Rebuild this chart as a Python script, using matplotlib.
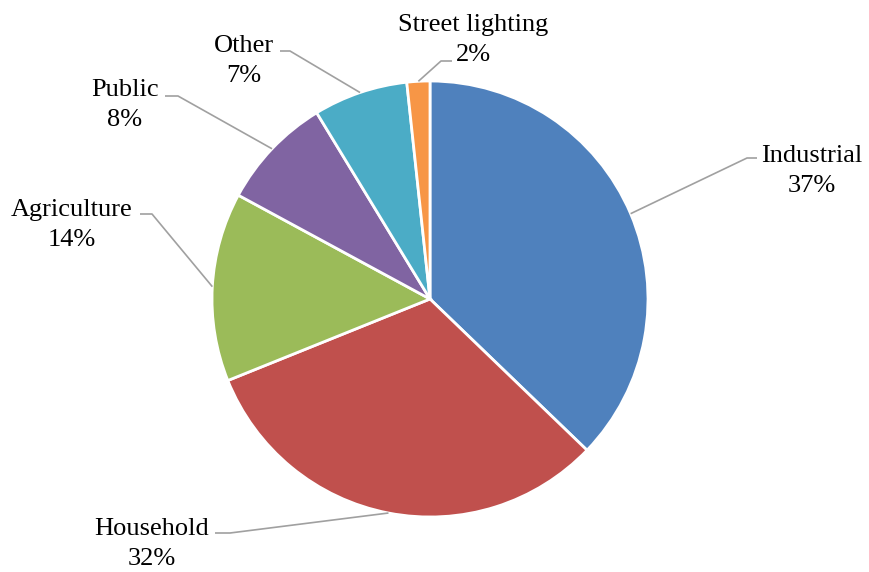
import numpy as np
import matplotlib
matplotlib.use("Agg")
import matplotlib.pyplot as plt

categories = ["Industrial", "Household", "Agriculture", "Public", "Other", "Street lighting"]
shares = [37.2, 31.7, 14.0, 8.4, 7.0, 1.7]
colors = ["#4F81BD", "#C0504D", "#9BBB59", "#8064A2", "#4BACC6", "#F79646"]

# layout (pixel positions of label block centers and leader elbows/ends)
W, H = 869, 572
CX, CY, R = 430, 299, 218
label_pos = [(812, 171), (152, 544), (72, 225), (125, 105), (244, 61), (473, 40)]
elbows = [(747, 158), (230, 533), (152, 214), (178, 96), (290, 51), (441, 61)]
ends = [(757, 158), (215, 533), (140, 214), (165, 96), (280, 51), (452, 61)]

def px(p):
    return ((p[0] - CX) / R, (CY - p[1]) / R)

fig = plt.figure(figsize=(W / 100, H / 100), dpi=100)
ax = fig.add_axes([0, 0, 1, 1])

wedges, _ = ax.pie(shares, colors=colors, startangle=90, counterclock=False,
                   radius=1.0, center=(0, 0), frame=True,
                   wedgeprops=dict(edgecolor="white", linewidth=2.0))
ax.set_xlim(-CX / R, (W - CX) / R)
ax.set_ylim(-(H - CY) / R, CY / R)
ax.set_aspect("equal")
ax.axis("off")

total = sum(shares)
cum = 0.0
for i, (cat, v) in enumerate(zip(categories, shares)):
    mid = 90 - (cum + v / 2) / total * 360
    cum += v
    sx, sy = np.cos(np.radians(mid)), np.sin(np.radians(mid))
    ex, ey = px(elbows[i])
    fx, fy = px(ends[i])
    ax.plot([sx, ex, fx], [sy, ey, fy], color="#A0A0A0", lw=1.2,
            solid_capstyle="butt", zorder=1)
    lx, ly = px(label_pos[i])
    ax.text(lx, ly, f"{cat}\n{round(v / total * 100):.0f}%", ha="center", va="center",
            fontsize=19, family="Liberation Serif", linespacing=1.52, color="black")

fig.savefig("out.png", dpi=100, facecolor="white")
